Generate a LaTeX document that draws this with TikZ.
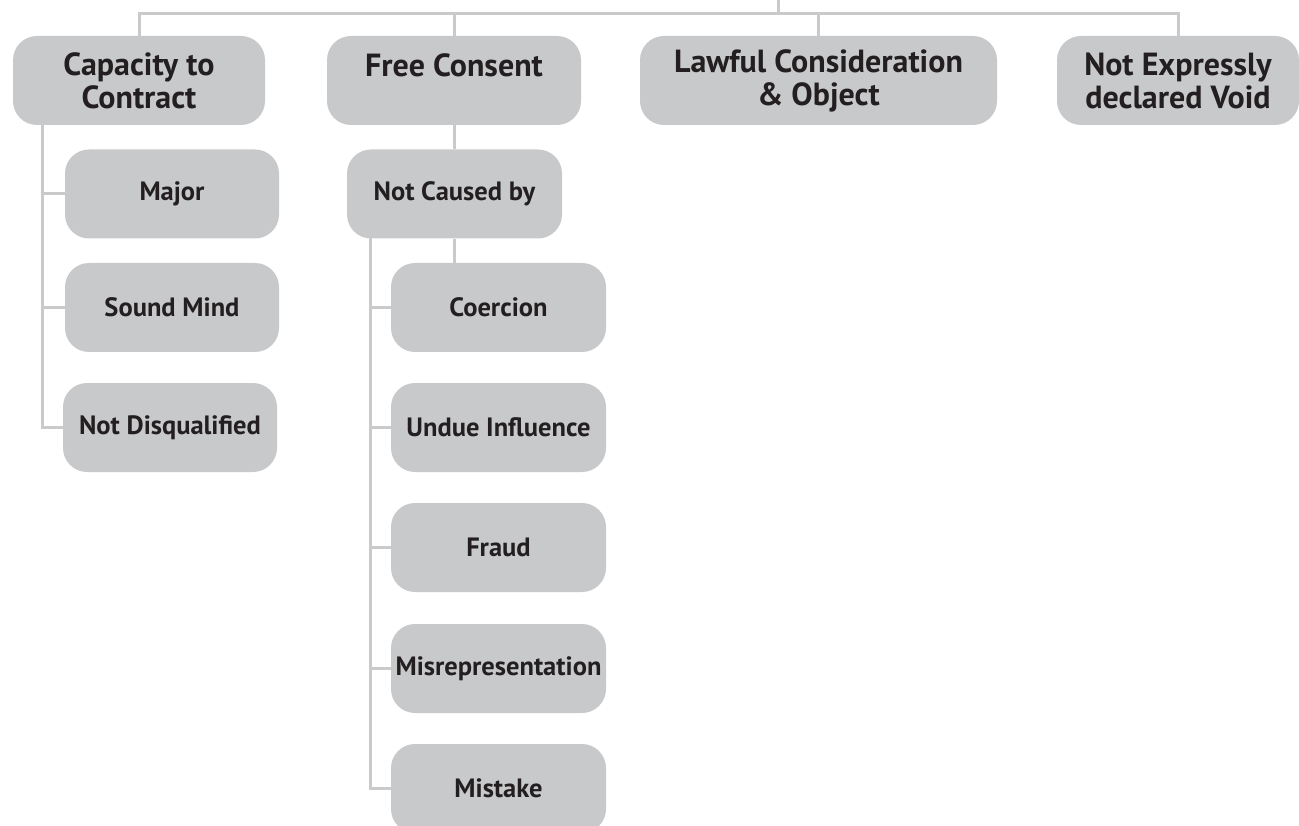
\documentclass[tikz,border=0pt]{standalone}
\usepackage{fontspec}
\setmainfont{PT Sans}
\definecolor{boxgray}{RGB}{200,201,203}
\definecolor{linegray}{RGB}{202,202,202}
\definecolor{textdark}{RGB}{35,31,32}
\tikzset{
  conn/.style={draw=linegray, line width=3pt},
  topbox/.style={fill=boxgray, rounded corners=24pt, minimum height=89pt,
    font=\fontsize{32}{33}\selectfont\bfseries, text=textdark, align=center, inner sep=0pt},
  subbox/.style={fill=boxgray, rounded corners=24pt, minimum width=215pt, minimum height=89pt,
    font=\fontsize{26.5}{28}\selectfont\bfseries, text=textdark, align=center, inner sep=0pt},
}
\begin{document}
\begin{tikzpicture}[x=1pt,y=-1pt]
\useasboundingbox (0,0) rectangle (1299,826);
\clip (0,0) rectangle (1299,826);
% top level
\node[topbox, minimum width=252pt] (cap) at (139,80.5) {Capacity to\\Contract};
\node[topbox, minimum width=254pt] (fc) at (454,80.5) {\raisebox{30pt}{Free Consent}};
\node[topbox, minimum width=357pt] (law) at (818.5,80.5) {Lawful Consideration\\\& Object};
\node[topbox, minimum width=242pt] (ne) at (1178,80.5) {Not Expressly\\declared Void};
% capacity children
\node[subbox, minimum width=214pt] (major) at (172,194) {Major};
\node[subbox, minimum width=214pt] (sound) at (172,307.5) {Sound Mind};
\node[subbox, minimum width=214pt] (nd) at (170,427.5) {Not Disqualified};
% free consent children
\node[subbox] (ncb) at (454.5,194) {Not Caused by};
\node[subbox] (co) at (498.5,307.5) {Coercion};
\node[subbox] (ui) at (498.5,427.5) {Undue Influence};
\node[subbox] (fr) at (498.5,547.5) {Fraud};
\node[subbox] (mis) at (498.5,668.5) {Misrepresentation};
\node[subbox] (mk) at (498.5,788.5) {Mistake};
% connectors
\coordinate (root) at (778,0);
\coordinate (bar) at (778,14);
\coordinate (capv) at (42,125);
\coordinate (ncbv) at (370,238);
\draw[conn] (root) -- (bar);
\draw[conn] (cap.north) |- (bar) -| (ne.north);
\draw[conn] (fc.north) -- (fc.north |- bar);
\draw[conn] (law.north) -- (law.north |- bar);
\draw[conn] (capv) |- (nd.west);
\draw[conn] (capv |- major.west) -- (major.west);
\draw[conn] (capv |- sound.west) -- (sound.west);
\draw[conn] (fc.south) -- (fc.south |- ncb.north);
\draw[conn] (ncb.south) -- (ncb.south |- co.north);
\draw[conn] (ncbv) |- (mk.west);
\draw[conn] (ncbv |- co.west) -- (co.west);
\draw[conn] (ncbv |- ui.west) -- (ui.west);
\draw[conn] (ncbv |- fr.west) -- (fr.west);
\draw[conn] (ncbv |- mis.west) -- (mis.west);
\end{tikzpicture}
\end{document}
